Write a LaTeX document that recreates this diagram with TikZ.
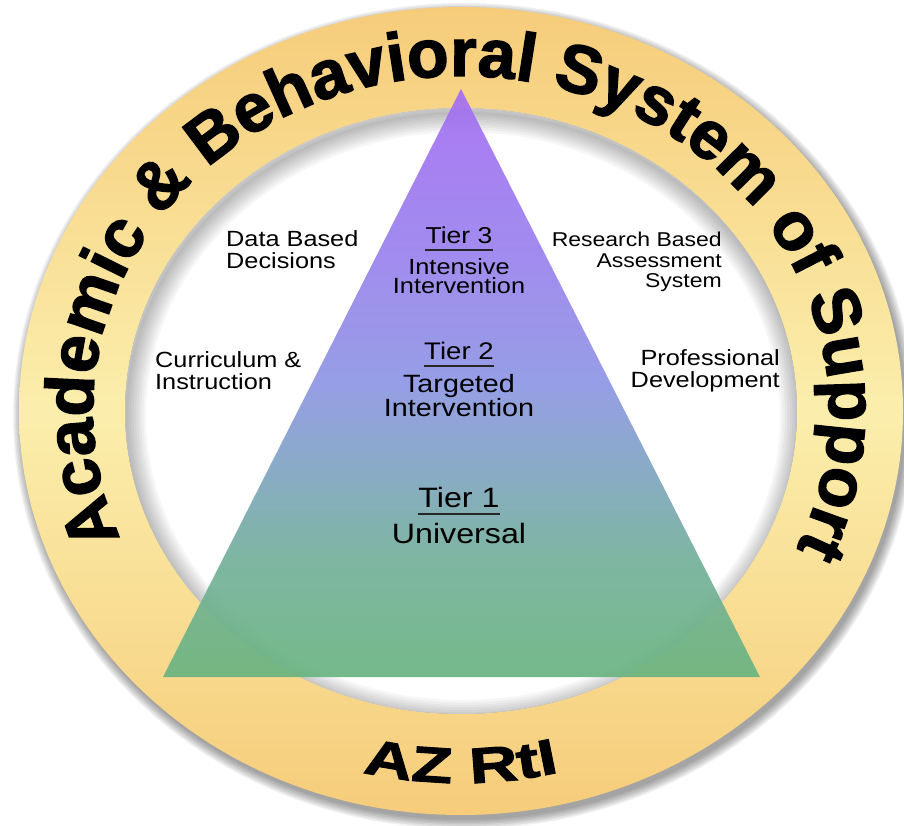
\documentclass[tikz,border=0pt]{standalone}
\usepackage{fontspec}
\setmainfont{Liberation Sans}
\newfontfamily\lblfont[FakeStretch=1.15]{Liberation Sans}
\newfontfamily\ringfont[FakeBold=2]{Liberation Sans Bold}
\newfontfamily\azfont[FakeStretch=1.35,FakeBold=2]{Liberation Sans Bold}
\usetikzlibrary{positioning,calc,decorations.text}

\definecolor{ringgold}{RGB}{246,204,122}
\definecolor{ringpale}{RGB}{251,238,172}
\definecolor{tgreen}{RGB}{106,180,128}
\definecolor{tteal}{RGB}{116,176,154}
\definecolor{tslate}{RGB}{126,166,190}
\definecolor{tblue}{RGB}{142,150,228}
\definecolor{tviolet}{RGB}{154,130,238}
\definecolor{tpurple}{RGB}{164,110,242}
\pgfdeclareverticalshading{tiershade}{100bp}{color(0bp)=(tgreen); color(25bp)=(tgreen);
  color(35bp)=(tteal); color(42bp)=(tslate); color(50bp)=(tblue); color(61bp)=(tviolet);
  color(75bp)=(tpurple); color(100bp)=(tpurple)}

\tikzset{
  lbl/.style = {inner sep=0pt, font=\lblfont\fontsize{22}{22}\selectfont, text=black},
  tierhead/.style = {lbl, anchor=north},
  tierdesc/.style = {lbl, align=center},
  tierline/.style = {line width=1.6pt, black!85},
}

\begin{document}
\begin{tikzpicture}[x=1pt,y=1pt]
\useasboundingbox (0,0) rectangle (904,825);
\fill[white] (0,0) rectangle (904,825);
\coordinate (c) at (461,414);
% shadow under the ring
\foreach \rx/\ry in {442/404,443.5/405.5,445/407,446.5/408.5,448/410,449.5/411.5,451/413}
  \fill[black, opacity=0.06] ($(c)+(3,-5)$) ellipse[x radius=\rx, y radius=\ry];
% the ring
\path[even odd rule, top color=ringgold, bottom color=ringgold, middle color=ringpale]
  (c) ellipse[x radius=442, y radius=404] (c) ellipse[x radius=336, y radius=303];
\fill[white] (c) ellipse[x radius=336, y radius=303];
\begin{scope}
  \clip (c) ellipse[x radius=336, y radius=303];
  \foreach \w in {3,8,13,18,23,28,33,38}
    \draw[black, opacity=0.035, line width=\w] ($(c)+(2,-5)$) ellipse[x radius=336, y radius=303];
\end{scope}
% pyramid
\coordinate (apex) at (461,736);
\coordinate (bl) at (163,148);
\coordinate (br) at (760,148);
\shade[shading=tiershade, opacity=0.92] (apex) -- (br) -- (bl) -- cycle;
% text round the ring
\path[decorate, decoration={text along path, text align=center,
    text={|\ringfont\fontsize{68}{68}\selectfont|Academic {\&} Behavioral System of Support}}]
  ($(c)+(204:368 and 335)$) arc[start angle=204, end angle=-26, x radius=368, y radius=335];
\path[decorate, decoration={text along path, text align=center,
    text={|\azfont\fontsize{50}{50}\selectfont|AZ RtI}}]
  ($(c)+(240:411 and 372)$) arc[start angle=240, end angle=300, x radius=411, y radius=372];
% labels
\node[lbl, anchor=north west, align=left] (dbd) at (226,595) {Data Based\\Decisions};
\node[lbl, anchor=north west, align=left] (cin) at (155,474) {Curriculum \&\\Instruction};
\node[lbl, anchor=north east, align=right, font=\lblfont\fontsize{20}{20.5}\selectfont] (rba) at (722,593) {Research Based\\Assessment\\System};
\node[lbl, anchor=north east, align=right] (prd) at (780,476) {Professional\\Development};
% tiers
\node[tierhead, font=\lblfont\fontsize{23}{23}\selectfont] (t3) at (459,598) {Tier 3};
\node[tierdesc, below=14pt of t3, font=\lblfont\fontsize{22}{19}\selectfont] (t3d) {Intensive\\Intervention};
\node[tierhead, font=\lblfont\fontsize{24}{24}\selectfont] (t2) at (459,483) {Tier 2};
\node[tierdesc, below=14pt of t2, font=\lblfont\fontsize{25}{23}\selectfont] (t2d) {Targeted\\Intervention};
\node[tierhead, font=\lblfont\fontsize{28}{28}\selectfont] (t1) at (459,338) {Tier 1};
\node[tierdesc, below=15pt of t1, font=\lblfont\fontsize{28}{28}\selectfont] (t1d) {Universal};
\foreach \t in {t3,t2,t1}
  \draw[tierline] ([yshift=-6pt]\t.south west) -- ([yshift=-6pt]\t.south east);
\end{tikzpicture}
\end{document}
